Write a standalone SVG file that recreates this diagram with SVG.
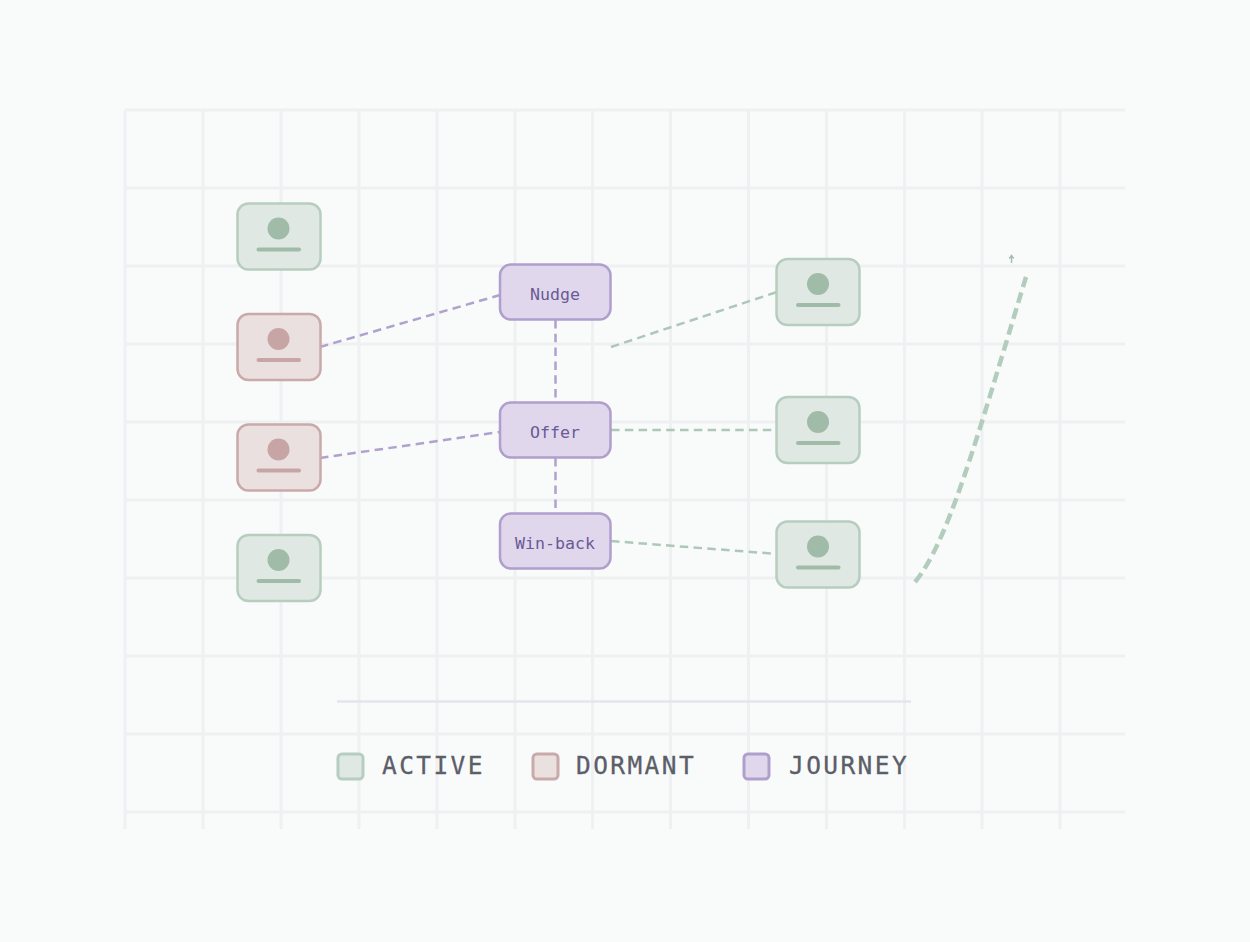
<svg xmlns="http://www.w3.org/2000/svg" width="1250" height="942" viewBox="0 0 1250 942">
<defs>
<style>
.grid line{stroke:#eff0f1;stroke-width:3}
.a rect{fill:#dfe8e3;stroke:#b6cdbf;stroke-width:2.500}
.d rect{fill:#ebe0e0;stroke:#c9a9a9;stroke-width:2.500}
.j rect{fill:#e0d7ec;stroke:#b09fcc;stroke-width:2.500}
#legend rect{stroke-width:3}
.a circle{fill:#a1bba9}.a line{stroke:#a1bba9}
.d circle{fill:#c7a5a5}.d line{stroke:#c7a5a5}
.n line{stroke-width:4;stroke-linecap:round}
.lab{font:16.6px "DejaVu Sans Mono",monospace;fill:#6a5a96;text-anchor:middle}
.leg{font:500 24.500px "DejaVu Sans Mono",monospace;letter-spacing:2.400px;fill:#5c5e6a;stroke:#5c5e6a;stroke-width:.3}
.cj{stroke:#b0a1cf;stroke-width:2.500;stroke-dasharray:8.500 5.300;fill:none}
.cg{stroke:#aec7b8;stroke-width:2.500;stroke-dasharray:8.500 5.300;fill:none}
</style>
</defs>
<rect width="1250" height="942" fill="#f9fbfb"/>
<g class="grid">
<line x1="125" y1="110" x2="125" y2="829"/><line x1="203" y1="110" x2="203" y2="829"/><line x1="281" y1="110" x2="281" y2="829"/><line x1="359" y1="110" x2="359" y2="829"/><line x1="437" y1="110" x2="437" y2="829"/><line x1="515" y1="110" x2="515" y2="829"/><line x1="592.500" y1="110" x2="592.500" y2="829"/><line x1="670.500" y1="110" x2="670.500" y2="829"/><line x1="748.500" y1="110" x2="748.500" y2="829"/><line x1="826.500" y1="110" x2="826.500" y2="829"/><line x1="904.500" y1="110" x2="904.500" y2="829"/><line x1="982" y1="110" x2="982" y2="829"/><line x1="1060" y1="110" x2="1060" y2="829"/>
<line x1="125" y1="110" x2="1125" y2="110"/><line x1="125" y1="188" x2="1125" y2="188"/><line x1="125" y1="266" x2="1125" y2="266"/><line x1="125" y1="344" x2="1125" y2="344"/><line x1="125" y1="422" x2="1125" y2="422"/><line x1="125" y1="500" x2="1125" y2="500"/><line x1="125" y1="578" x2="1125" y2="578"/><line x1="125" y1="656" x2="1125" y2="656"/><line x1="125" y1="734" x2="1125" y2="734"/><line x1="125" y1="812" x2="1125" y2="812"/>
</g>
<line x1="337" y1="701.500" x2="911" y2="701.500" stroke="#e4e4ec" stroke-width="2.500"/>
<g id="connectors">
<line class="cj" x1="320" y1="347" x2="500" y2="295"/>
<line class="cj" x1="320" y1="458" x2="500" y2="432"/>
<line class="cj" x1="555.500" y1="320" x2="555.500" y2="402"/>
<line class="cj" x1="555.500" y1="458" x2="555.500" y2="513"/>
<line class="cg" x1="611" y1="347" x2="777" y2="292"/>
<line class="cg" x1="611" y1="430" x2="777" y2="430"/>
<line class="cg" x1="611" y1="541" x2="777" y2="554"/>
<path d="M915 582C948 542 975 445 1026 277" fill="none" stroke="#b3cdbd" stroke-width="4.500" stroke-dasharray="11 5.600"/>
<path d="M1011.500 263V256M1009.300 258.500L1011.500 255.500L1013.700 258.500" fill="none" stroke="#a5bfb0" stroke-width="1.500"/>
</g>
<g id="user-1" class="n a"><rect x="237.500" y="203.500" width="83" height="66" rx="11"/><circle cx="278.500" cy="228.500" r="11"/><line x1="258.500" y1="249.500" x2="299" y2="249.500"/></g>
<g id="user-2" class="n d"><rect x="237.500" y="314" width="83" height="66" rx="11"/><circle cx="278.500" cy="339" r="11"/><line x1="258.500" y1="360" x2="299" y2="360"/></g>
<g id="user-3" class="n d"><rect x="237.500" y="424.500" width="83" height="66" rx="11"/><circle cx="278.500" cy="449.500" r="11"/><line x1="258.500" y1="470.500" x2="299" y2="470.500"/></g>
<g id="user-4" class="n a"><rect x="237.500" y="535" width="83" height="66" rx="11"/><circle cx="278.500" cy="560" r="11"/><line x1="258.500" y1="581" x2="299" y2="581"/></g>
<g id="user-5" class="n a"><rect x="776.500" y="259" width="83" height="66" rx="11"/><circle cx="818" cy="284" r="11"/><line x1="798" y1="305" x2="838.500" y2="305"/></g>
<g id="user-6" class="n a"><rect x="776.500" y="397" width="83" height="66" rx="11"/><circle cx="818" cy="422" r="11"/><line x1="798" y1="443" x2="838.500" y2="443"/></g>
<g id="user-7" class="n a"><rect x="776.500" y="521.500" width="83" height="66" rx="11"/><circle cx="818" cy="546.500" r="11"/><line x1="798" y1="567.500" x2="838.500" y2="567.500"/></g>
<g id="nudge" class="j"><rect x="500" y="264.500" width="110.500" height="55" rx="11"/><text class="lab" x="555" y="299.500">Nudge</text></g>
<g id="offer" class="j"><rect x="500" y="402.500" width="110.500" height="55" rx="11"/><text class="lab" x="555" y="437.500">Offer</text></g>
<g id="winback" class="j"><rect x="500" y="513.500" width="110.500" height="55" rx="11"/><text class="lab" x="555" y="548.500">Win-back</text></g>
<g id="legend">
<g class="a"><rect x="338" y="754" width="25" height="25" rx="4"/></g><text class="leg" x="382" y="774">ACTIVE</text>
<g class="d"><rect x="533" y="754" width="25" height="25" rx="4"/></g><text class="leg" x="576" y="774">DORMANT</text>
<g class="j"><rect x="744" y="754" width="25" height="25" rx="4"/></g><text class="leg" x="789" y="774">JOURNEY</text>
</g>
</svg>
